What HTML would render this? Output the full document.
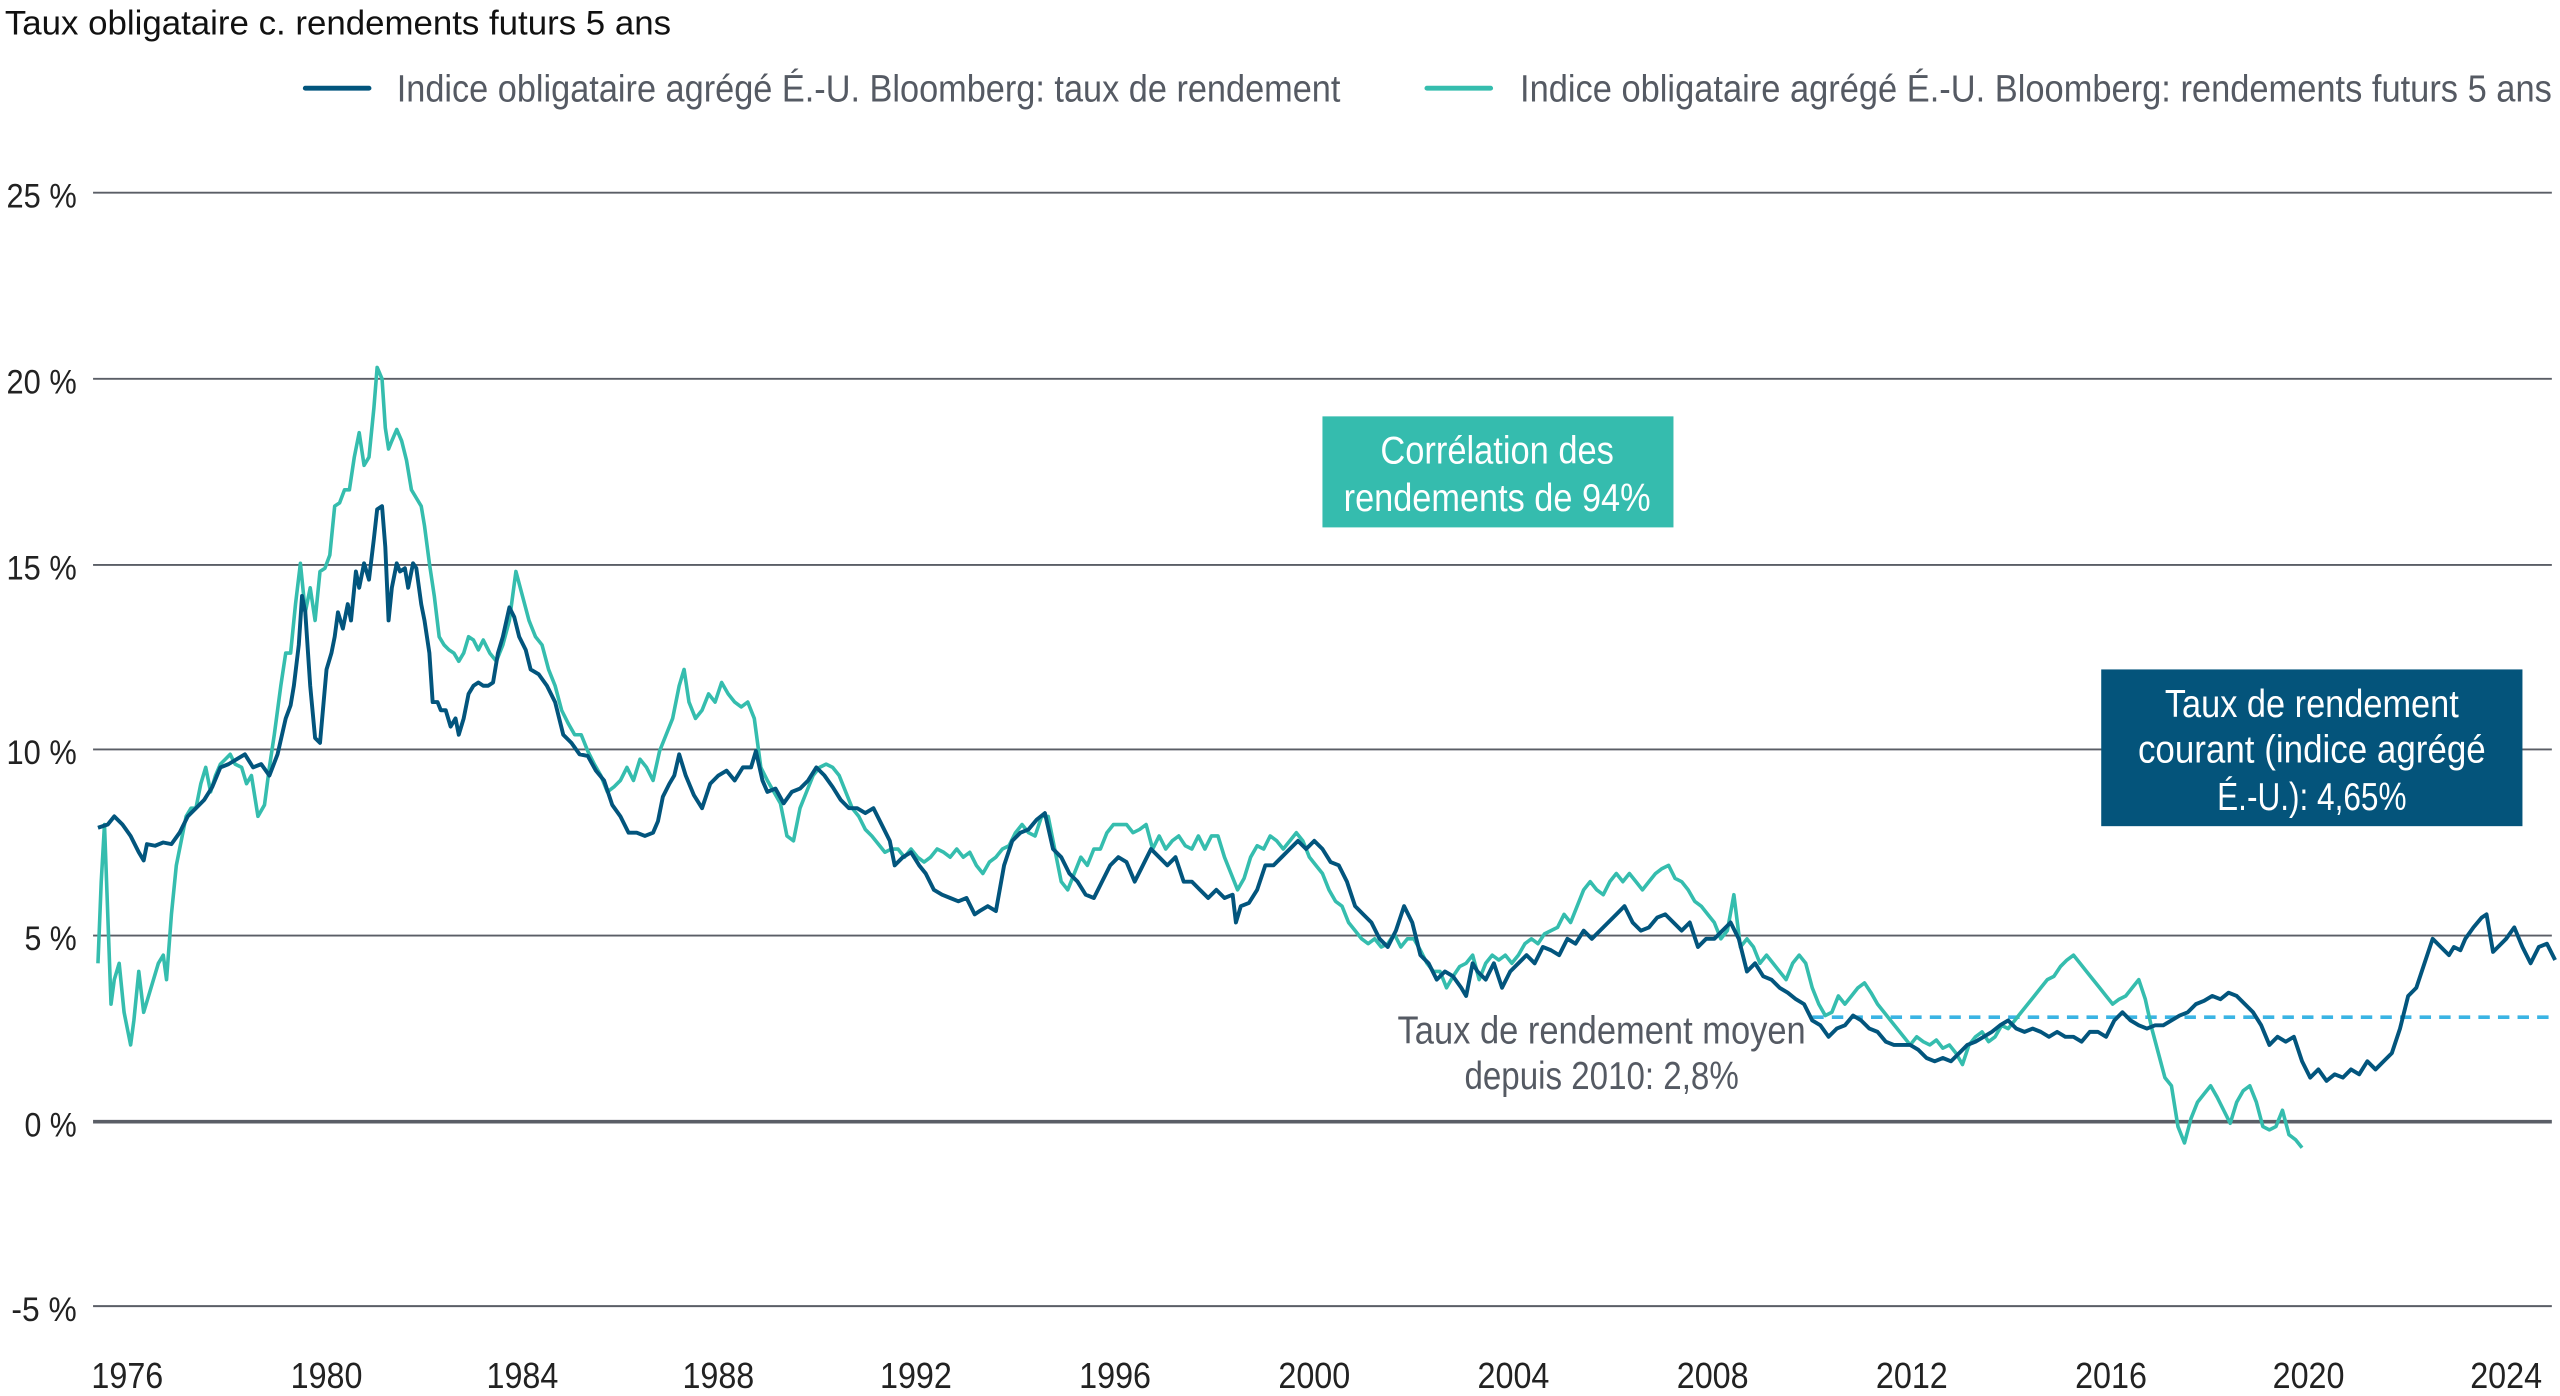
<!DOCTYPE html>
<html><head><meta charset="utf-8"><style>
html,body{margin:0;padding:0;background:#fff;width:2560px;height:1396px;overflow:hidden}
svg{display:block}
text{font-family:"Liberation Sans Narrow","Liberation Sans",sans-serif}
</style></head><body>
<svg width="2560" height="1396" viewBox="0 0 1568 855" xmlns="http://www.w3.org/2000/svg">
<text x="3" y="21" font-size="21" fill="#111" textLength="408" lengthAdjust="spacingAndGlyphs">Taux obligataire c. rendements futurs 5 ans</text>
<line x1="187" y1="54" x2="226" y2="54" stroke="#02557d" stroke-width="3" stroke-linecap="round"/>
<text x="243" y="62" font-size="23" fill="#555a63" textLength="578" lengthAdjust="spacingAndGlyphs">Indice obligataire agrégé É.-U. Bloomberg: taux de rendement</text>
<line x1="874" y1="54" x2="913" y2="54" stroke="#35bdae" stroke-width="3" stroke-linecap="round"/>
<text x="931" y="62" font-size="23" fill="#555a63" textLength="632" lengthAdjust="spacingAndGlyphs">Indice obligataire agrégé É.-U. Bloomberg: rendements futurs 5 ans</text>
<g stroke="#5a5e66" stroke-width="1.2">
<line x1="57" y1="118" x2="1563" y2="118"/><line x1="57" y1="232" x2="1563" y2="232"/>
<line x1="57" y1="346" x2="1563" y2="346"/><line x1="57" y1="459" x2="1563" y2="459"/>
<line x1="57" y1="573" x2="1563" y2="573"/><line x1="57" y1="800" x2="1563" y2="800"/>
</g>
<line x1="57" y1="687" x2="1563" y2="687" stroke="#5a5e66" stroke-width="2.2"/>
<g font-size="21" fill="#222" text-anchor="end">
<text x="47" y="127" textLength="43" lengthAdjust="spacingAndGlyphs">25 %</text><text x="47" y="241" textLength="43" lengthAdjust="spacingAndGlyphs">20 %</text><text x="47" y="355" textLength="43" lengthAdjust="spacingAndGlyphs">15 %</text>
<text x="47" y="468" textLength="43" lengthAdjust="spacingAndGlyphs">10 %</text><text x="47" y="582" textLength="32" lengthAdjust="spacingAndGlyphs">5 %</text><text x="47" y="696" textLength="32" lengthAdjust="spacingAndGlyphs">0 %</text><text x="47" y="809" textLength="40" lengthAdjust="spacingAndGlyphs">-5 %</text>
</g>
<g font-size="22" fill="#222" text-anchor="middle">
<text x="78" y="850" textLength="44" lengthAdjust="spacingAndGlyphs">1976</text><text x="200" y="850" textLength="44" lengthAdjust="spacingAndGlyphs">1980</text><text x="320" y="850" textLength="44" lengthAdjust="spacingAndGlyphs">1984</text><text x="440" y="850" textLength="44" lengthAdjust="spacingAndGlyphs">1988</text>
<text x="561" y="850" textLength="44" lengthAdjust="spacingAndGlyphs">1992</text><text x="683" y="850" textLength="44" lengthAdjust="spacingAndGlyphs">1996</text><text x="805" y="850" textLength="44" lengthAdjust="spacingAndGlyphs">2000</text><text x="927" y="850" textLength="44" lengthAdjust="spacingAndGlyphs">2004</text>
<text x="1049" y="850" textLength="44" lengthAdjust="spacingAndGlyphs">2008</text><text x="1171" y="850" textLength="44" lengthAdjust="spacingAndGlyphs">2012</text><text x="1293" y="850" textLength="44" lengthAdjust="spacingAndGlyphs">2016</text><text x="1414" y="850" textLength="44" lengthAdjust="spacingAndGlyphs">2020</text><text x="1535" y="850" textLength="44" lengthAdjust="spacingAndGlyphs">2024</text>
</g>
<line x1="1110" y1="623" x2="1563" y2="623" stroke="#3ab4e4" stroke-width="2.2" stroke-dasharray="7,5"/>
<polyline fill="none" stroke="#35bdae" stroke-width="2.2" stroke-linejoin="round" points="60,590 62,540 64,505 66,560 68,615 70,600 73,590 76,620 80,640 82,625 85,595 88,620 91,610 94,600 97,590 100,585 102,600 105,560 108,530 111,515 114,500 117,495 120,495 123,480 126,470 129,485 132,475 135,468 138,465 141,462 144,468 148,470 151,480 154,475 158,500 162,493 165,470 168,450 172,420 175,400 178,400 181,370 184,345 187,375 190,360 193,380 196,350 199,348 202,340 205,310 208,308 211,300 214,300 217,280 220,265 223,285 226,280 229,250 231,225 234,232 236,262 238,275 240,270 243,263 246,270 249,282 252,300 255,305 258,310 260,322 263,345 266,365 269,390 272,395 275,398 278,400 281,405 284,400 287,390 290,392 293,398 296,392 300,400 304,405 308,395 312,380 316,350 320,365 324,380 328,390 332,395 336,410 340,420 344,435 348,443 352,450 356,450 360,460 364,468 368,475 372,485 376,482 380,478 384,470 388,478 392,465 396,470 400,478 404,460 408,450 412,440 416,420 419,410 422,430 426,440 430,435 434,425 438,430 442,418 446,425 450,430 454,433 458,430 462,440 466,470 470,478 474,485 478,492 482,512 486,515 490,495 494,485 498,475 502,470 506,468 510,470 514,475 518,485 522,495 526,500 530,508 534,512 538,517 542,522 546,520 550,520 554,525 558,520 562,525 566,528 570,525 574,520 578,522 582,525 586,520 590,525 594,522 598,530 602,535 606,528 610,525 614,520 618,518 622,510 626,505 630,510 634,512 638,500 642,500 646,520 650,540 654,545 658,535 662,525 666,530 670,520 674,520 678,510 682,505 686,505 690,505 694,510 698,508 702,505 706,520 710,512 714,520 718,515 722,512 726,518 730,520 734,512 738,520 742,512 746,512 750,525 754,535 758,545 762,538 766,525 770,518 774,520 778,512 782,515 786,520 790,515 794,510 798,515 802,525 806,530 810,535 814,545 818,552 822,555 826,565 830,570 834,575 838,578 842,575 846,580 850,578 854,572 858,580 862,575 866,575 870,582 874,590 878,595 882,595 886,605 890,598 894,592 898,590 902,585 906,600 910,590 914,585 918,588 922,585 926,590 930,585 934,578 938,575 942,578 946,572 950,570 954,568 958,560 962,565 966,555 970,545 974,540 978,545 982,548 986,540 990,535 994,540 998,535 1002,540 1006,545 1010,540 1014,535 1018,532 1022,530 1026,538 1030,540 1034,545 1038,552 1042,555 1046,560 1050,565 1054,575 1058,570 1062,548 1066,580 1070,575 1074,580 1078,590 1082,585 1086,590 1090,595 1094,600 1098,590 1102,585 1106,590 1110,605 1114,615 1118,622 1122,620 1126,610 1130,615 1134,610 1138,605 1142,602 1146,608 1150,615 1154,620 1158,625 1162,630 1166,635 1170,640 1174,635 1178,638 1182,640 1186,637 1190,642 1194,640 1198,645 1202,652 1206,640 1210,635 1214,632 1218,638 1222,635 1226,628 1230,630 1234,625 1238,620 1242,615 1246,610 1250,605 1254,600 1258,598 1262,592 1266,588 1270,585 1274,590 1278,595 1282,600 1286,605 1290,610 1294,615 1298,612 1302,610 1306,605 1310,600 1314,612 1318,630 1322,645 1326,660 1330,665 1334,690 1338,700 1342,685 1346,675 1350,670 1354,665 1358,672 1362,680 1366,688 1370,675 1374,668 1378,665 1382,675 1386,690 1390,692 1394,690 1398,680 1402,695 1406,698 1410,703"/>
<polyline fill="none" stroke="#02557d" stroke-width="2.4" stroke-linejoin="round" points="60,507 66,505 70,500 75,505 80,512 85,522 88,527 90,517 95,518 100,516 105,517 110,510 115,500 120,495 125,490 130,482 135,470 140,468 145,465 150,462 155,470 160,468 165,475 170,462 175,440 178,432 180,420 183,395 185,365 187,375 190,420 193,452 196,455 200,410 203,400 205,390 207,375 210,385 213,370 215,380 218,350 220,360 223,345 226,355 229,330 231,312 234,310 236,335 238,380 240,360 243,345 245,350 248,348 250,360 253,345 255,348 258,370 260,380 263,400 265,430 268,430 270,435 273,435 276,445 279,440 281,450 284,440 287,425 290,420 293,418 296,420 299,420 302,418 305,400 308,390 312,372 315,378 318,390 322,398 325,410 330,413 335,420 340,430 345,450 350,455 355,462 360,463 365,472 370,478 375,493 380,500 385,510 390,510 395,512 400,510 403,503 406,488 410,480 413,475 416,462 420,475 425,487 430,495 435,480 440,475 445,472 450,478 455,470 460,470 463,460 467,478 470,485 475,483 480,492 485,485 490,483 495,478 500,470 505,475 510,482 515,490 520,495 525,495 530,498 535,495 540,505 545,515 548,530 553,525 558,522 563,530 567,535 572,545 577,548 582,550 587,552 592,550 597,560 600,558 605,555 610,558 615,530 620,515 625,510 630,508 635,502 640,498 645,520 650,525 655,535 660,540 665,548 670,550 675,540 680,530 685,525 690,528 695,540 700,530 705,520 710,525 715,530 720,525 725,540 730,540 735,545 740,550 745,545 750,550 755,548 757,565 760,555 765,553 770,545 775,530 780,530 785,525 790,520 795,515 800,520 805,515 810,520 815,528 820,530 825,540 830,555 835,560 840,565 845,575 850,580 855,570 860,555 865,565 870,585 875,590 880,600 885,595 890,598 895,605 898,610 902,590 905,595 910,600 915,590 920,605 925,595 930,590 935,585 940,590 945,580 950,582 955,585 960,575 965,578 970,570 975,575 980,570 985,565 990,560 995,555 1000,565 1005,570 1010,568 1015,562 1020,560 1025,565 1030,570 1035,565 1040,580 1045,575 1050,575 1055,570 1060,565 1065,575 1070,595 1075,590 1080,598 1085,600 1090,605 1095,608 1100,612 1105,615 1110,625 1115,628 1120,635 1125,630 1130,628 1135,622 1140,625 1145,630 1150,632 1155,638 1160,640 1165,640 1170,640 1175,643 1180,648 1185,650 1190,648 1195,650 1200,645 1205,640 1210,638 1215,635 1220,632 1225,628 1230,625 1235,630 1240,632 1245,630 1250,632 1255,635 1260,632 1265,635 1270,635 1275,638 1280,632 1285,632 1290,635 1295,625 1300,620 1305,625 1310,628 1315,630 1320,628 1325,628 1330,625 1335,622 1340,620 1345,615 1350,613 1355,610 1360,612 1365,608 1370,610 1375,615 1380,620 1385,628 1390,640 1395,635 1400,638 1405,635 1410,650 1415,660 1420,655 1425,662 1430,658 1435,660 1440,655 1445,658 1450,650 1455,655 1460,650 1465,645 1470,630 1475,610 1480,605 1485,590 1490,575 1495,580 1500,585 1503,580 1507,582 1510,575 1515,568 1520,562 1523,560 1527,583 1530,580 1535,575 1540,568 1545,580 1550,590 1555,580 1560,578 1565,588"/>
<rect x="810" y="255" width="215" height="68" fill="#35bcae"/>
<text x="917" y="284" font-size="24" fill="#fff" text-anchor="middle" textLength="143" lengthAdjust="spacingAndGlyphs">Corrélation des</text>
<text x="917" y="313" font-size="24" fill="#fff" text-anchor="middle" textLength="188" lengthAdjust="spacingAndGlyphs">rendements de 94%</text>
<rect x="1287" y="410" width="258" height="96" fill="#04547b"/>
<text x="1416" y="439" font-size="24" fill="#fff" text-anchor="middle" textLength="180" lengthAdjust="spacingAndGlyphs">Taux de rendement</text>
<text x="1416" y="467" font-size="24" fill="#fff" text-anchor="middle" textLength="213" lengthAdjust="spacingAndGlyphs">courant (indice agrégé</text>
<text x="1416" y="496" font-size="24" fill="#fff" text-anchor="middle" textLength="116" lengthAdjust="spacingAndGlyphs">É.-U.): 4,65%</text>
<text x="981" y="639" font-size="24" fill="#555a63" text-anchor="middle" textLength="250" lengthAdjust="spacingAndGlyphs">Taux de rendement moyen</text>
<text x="981" y="667" font-size="24" fill="#555a63" text-anchor="middle" textLength="168" lengthAdjust="spacingAndGlyphs">depuis 2010: 2,8%</text>
</svg>
</body></html>
